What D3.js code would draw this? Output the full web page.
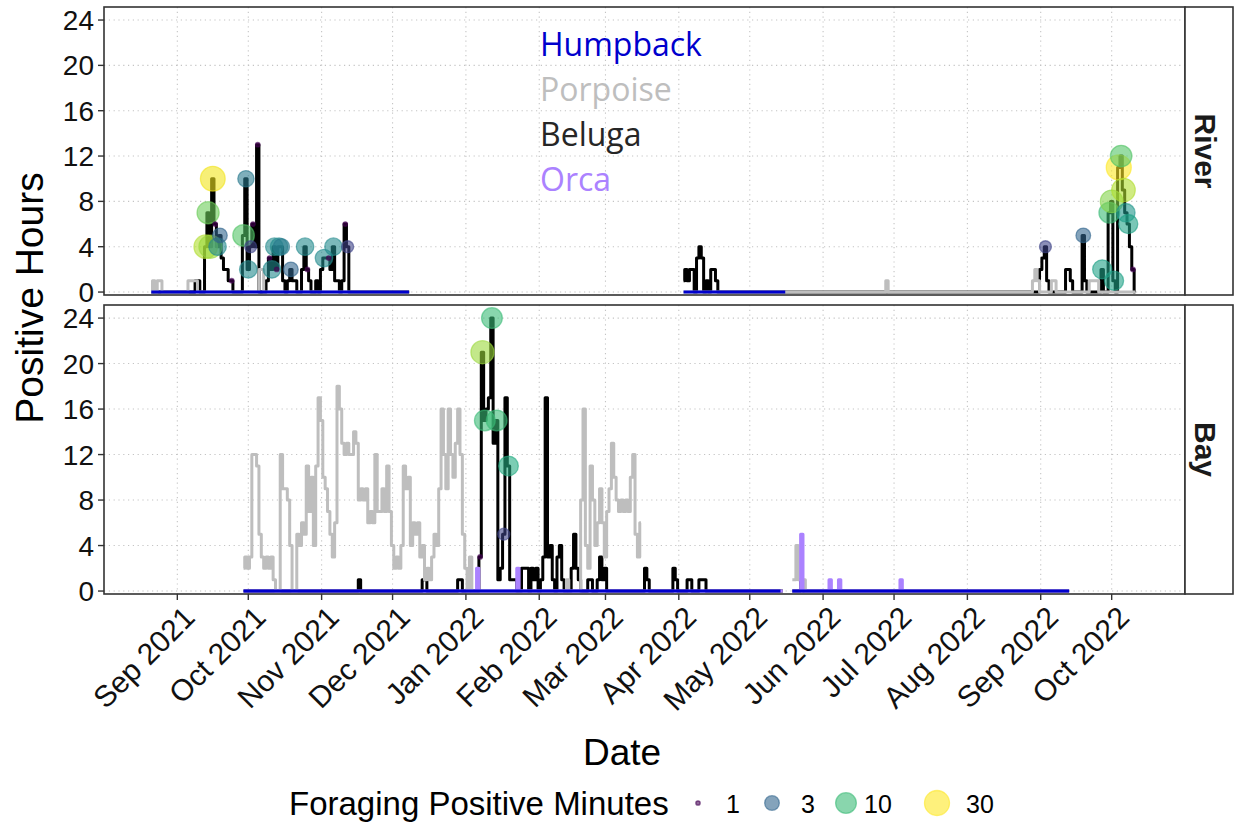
<!DOCTYPE html>
<html>
<head>
<meta charset="utf-8">
<script src="https://cdn.jsdelivr.net/npm/d3@7"></script>
<style>
  body { margin: 0; background: #ffffff; }
  svg { display: block; }
  text { font-family: "Liberation Sans", Arial, sans-serif; }
</style>
</head>
<body>
<svg id="chart" width="1238" height="822"></svg>
<script>
// ---------------- data ----------------
const monthTicks = ["2021-09-01","2021-10-01","2021-11-01","2021-12-01","2022-01-01","2022-02-01",
  "2022-03-01","2022-04-01","2022-05-01","2022-06-01","2022-07-01","2022-08-01","2022-09-01","2022-10-01"];
const yTicks = [0, 4, 8, 12, 16, 20, 24];
const speciesNames = ["Humpback", "Porpoise", "Beluga", "Orca"];
const speciesColors = ["#0000CD", "#BEBEBE", "#000000", "#AB82FF"];
const legendBreaks = [1, 3, 10, 30];

// River hydrophone, first deployment: daily positive hours from 2021-08-21
const riverStart1 = "2021-08-21";
const riverBeluga1 = [
  0,0,0,0,0,0,0,0,0,0, 0,0,0,0,0,0,0,0,0,1, 1,0,0,4,7,4,10,6,4,5,
  3,2,2,1,1,0,0,0,0,5, 10,2,4,6,4,13,0,0,0,1, 3,2,4,2,4,4,1,0,1,2,
  1,1,0,0,2,4,2,1,0,0, 1,0,2,3,3,3,2,4,1,1, 0,1,6,4,0,0,0,0,0,0,
  0,0,0,0,0,0,0,0,0,0, 0,0,0,0,0,0,0,0,0,0
];
const riverPorpoise1 = [
  0,1,0,1,1,0,0,0,0,0, 0,0,0,0,0,0,1,1,1,1, 0,0,0,0,0,0,0,0,0,0,
  0,0,0,0,0,0,0,0,0,0, 0,0,0,0,0,0,2,2,0,0, 0,0,0,0,0,0,0,0,0,0,
  0,0,0,0,0,0,0,0,0,0, 0,0,0,0,0,0,0,0,0,0, 0,0,0,0,0,0,0,0,0,0,
  0,0,0,0,0,0,0,0,0,0, 0,0,0,0,0,0,0,0,0,0
];
// River hydrophone, second deployment: daily positive hours from 2022-04-03
const riverStart2 = "2022-04-03";
const riverBeluga2 = [
  1,2,1,2,2,0,3,4,3,0, 1,0,2,2,1,0,0,0,0,0, 0,0,0,0,0,0,0,0,0,0,
  0,0,0,0,0,0,0,0,0,0, 0,0,0,0,0,0,0,0,0,0, 0,0,0,0,0,0,0,0,0,0,
  0,0,0,0,0,0,0,0,0,0, 0,0,0,0,0,0,0,0,0,0, 0,0,0,0,0,0,0,0,0,0,
  0,0,0,0,0,0,0,0,0,0, 0,0,0,0,0,0,0,0,0,0, 0,0,0,0,0,0,0,0,0,0,
  0,0,0,0,0,0,0,0,0,0, 0,0,0,0,0,0,0,0,0,0, 0,0,0,0,0,0,0,0,0,0,
  0,2,3,4,1,0,0,0,0,0, 0,0,2,2,1,0,0,0,0,5, 1,0,0,0,0,0,0,2,0,0,
  7,8,1,0,11,12,9,7,6,4, 2,0
];
const riverPorpoise2 = [
  0,0,0,0,0,0,0,0,0,0, 0,0,0,0,0,0,0,0,0,0, 0,0,0,0,0,0,0,0,0,0,
  0,0,0,0,0,0,0,0,0,0, 0,0,0,0,0,0,0,0,0,0, 0,0,0,0,0,0,0,0,0,0,
  0,0,0,0,0,0,0,0,0,0, 0,0,0,0,0,0,0,0,0,0, 0,0,0,0,0,0,1,0,0,0,
  0,0,0,0,0,0,0,0,0,0, 0,0,0,0,0,0,0,0,0,0, 0,0,0,0,0,0,0,0,0,0,
  0,0,0,0,0,0,0,0,0,0, 0,0,0,0,0,0,0,0,0,0, 0,0,0,0,0,0,0,0,1,2,
  1,0,0,0,0,0,1,1,0,0, 0,0,0,0,0,0,0,0,0,0, 0,0,1,1,1,1,0,0,0,0,
  0,0,0,0,0,0,0,0,0,0, 0,0
];
// Humpback: no detections at the River site (first and last monitored days)
const riverHumpbackDates = [["2021-08-21","2021-12-08"], ["2022-04-03","2022-05-16"]];
const riverHumpbackHours = [[0, 0], [0, 0]];

// Bay hydrophone, first deployment: daily positive hours from 2021-09-29
const bayStart1 = "2021-09-29";
const bayBeluga1 = [
  0,0,0,0,0,0,0,0,0,0, 0,0,0,0,0,0,0,0,0,0, 0,0,0,0,0,0,0,0,0,0,
  0,0,0,0,0,0,0,0,0,0, 0,0,0,0,0,0,0,0,0,1, 0,0,0,0,0,0,0,0,0,0,
  0,0,0,0,0,0,0,0,0,0, 0,0,0,0,0,0,1,1,0,0, 0,0,0,0,0,0,0,0,0,0,
  0,1,1,0,0,0,0,0,0,0, 3,21,15,16,17,24,13,15,1,2, 5,17,11,1,1,1,0,0,2,2,
  2,0,2,1,2,0,1,3,17,3, 4,1,0,3,4,1,0,0,0,2, 5,2,1,0,0,0,1,1,0,0,
  1,3,1,2,0,0,0,0,0,0, 0,0,0,0,0,0,0,0,0,0, 2,1,0,0,0,0,0,0,0,0,
  0,0,2,1,0,0,0,0,1,1, 0,0,0,1,1,1,0,0,0,0, 0,0,0,0,0,0,0,0,0,0,
  0,0,0,0,0,0,0,0,0,0, 0,0,0,0,0,0,0,0,0
];
const bayPorpoise1 = [
  2,3,2,3,12,12,11,5,3,2, 3,2,3,1,0,0,12,9,9,8, 4,0,0,5,4,6,5,11,7,10,
  4,11,17,15,10,9,7,5,3,6, 18,16,13,12,13,12,12,14,13,8, 9,8,9,6,7,6,12,7,7,9,
  7,11,7,4,2,3,2,4,11,9, 10,4,6,5,6,3,4,1,2,1, 3,5,4,9,16,12,9,16,12,10,
  13,16,12,5,2,0,3,0,0,0, 0,0,0,0,0,0,0,0,0,0, 0,0,0,0,0,0,0,0,0,0,
  0,0,0,0,0,0,0,0,0,0, 0,0,0,0,0,0,0,1,0,0, 0,0,0,8,16,4,2,11,8,4,
  6,9,6,3,7,9,13,10,8,7, 8,7,8,7,10,12,5,3,6
];
const bayOrca1 = [
  0,0,0,0,0,0,0,0,0,0, 0,0,0,0,0,0,0,0,0,0, 0,0,0,0,0,0,0,0,0,0,
  0,0,0,0,0,0,0,0,0,0, 0,0,0,0,0,0,0,0,0,0, 0,0,0,0,0,0,0,0,0,0,
  0,0,0,0,0,0,0,0,0,0, 0,0,0,0,0,0,0,0,0,0, 0,0,0,0,0,0,0,0,0,0,
  0,0,0,0,0,0,0,0,0,2, 0,0,0,0,0,0,0,0,0,0, 0,0,0,0,0,0,2,0,0,0,
  0,0,0,0,0,0,0,0,0,0, 0,0,0,0,0,0,0,0,0,0, 0,0,0,0,0,0,0,0,0,0,
  0,0,0,0,0,0,0,0,0,0, 0,0,0,0,0,0,0,0,0,0, 0,0,0,0,0,0,0,0,0,0,
  0,0,0,0,0,0,0,0,0,0, 0,0,0,0,0,0,0,0,0,0, 0,0,0,0,0,0,0,0,0,0,
  0,0,0,0,0,0,0,0,0,0, 0,0,0,0,0,0,0,0,0
];
// Bay hydrophone, second deployment: daily positive hours from 2022-05-19
const bayStart2 = "2022-05-19";
const bayBeluga2 = [
  0,0,0,0,1,0,0,0,0,0, 0,0,0,0,0,0,0,0,0,0, 0,0,0,0,0,0,0,0,0,0,
  0,0,0,0,0,0,0,0,0,0, 0,0,0,0,0,0,0,0,0,0, 0,0,0,0,0,0,0,0,0,0,
  0,0,0,0,0,0,0,0,0,0, 0,0,0,0,0,0,0,0,0,0, 0,0,0,0,0,0,0,0,0,0,
  0,0,0,0,0,0,0,0,0,0, 0,0,0,0,0,0,0,0,0,0, 0,0,0,0,0,0,0,0
];
const bayPorpoise2 = [
  1,1,4,1,1,1,0,0,0,0, 0,0,0,0,0,0,0,0,0,0, 0,0,0,0,0,0,0,0,0,0,
  0,0,0,0,0,0,0,0,0,0, 0,0,0,0,0,0,0,0,0,0, 0,0,0,0,0,0,0,0,0,0,
  0,0,0,0,0,0,0,0,0,0, 0,0,0,0,0,0,0,0,0,0, 0,0,0,0,0,0,0,0,0,0,
  0,0,0,0,0,0,0,0,0,0, 0,0,0,0,0,0,0,0,0,0, 0,0,0,0,0,0,0,0
];
const bayOrca2 = [
  0,0,0,0,5,0,0,0,0,0, 0,0,0,0,0,0,1,0,0,0, 1,0,0,0,0,0,0,0,0,0,
  0,0,0,0,0,0,0,0,0,0, 0,0,0,0,0,0,1,0,0,0, 0,0,0,0,0,0,0,0,0,0,
  0,0,0,0,0,0,0,0,0,0, 0,0,0,0,0,0,0,0,0,0, 0,0,0,0,0,0,0,0,0,0,
  0,0,0,0,0,0,0,0,0,0, 0,0,0,0,0,0,0,0,0,0, 0,0,0,0,0,0,0,0
];
const bayHumpbackDates = [["2021-09-29","2022-05-14"], ["2022-05-19","2022-09-13"]];
const bayHumpbackHours = [[0, 0], [0, 0]];

// Beluga foraging buzzes: day and minutes with foraging
const forageRiverDates = ["2021-09-13","2021-09-14","2021-09-15","2021-09-16","2021-09-17","2021-09-18",
  "2021-09-19","2021-09-24","2021-09-29","2021-09-30","2021-10-01","2021-10-02","2021-10-03","2021-10-05",
  "2021-10-10","2021-10-11","2021-10-12","2021-10-13","2021-10-14","2021-10-15","2021-10-19","2021-10-25",
  "2021-10-26","2021-11-02","2021-11-04","2021-11-06","2021-11-11","2021-11-12",
  "2022-09-03","2022-09-19","2022-09-27","2022-09-30","2022-10-01","2022-10-02","2022-10-04","2022-10-05",
  "2022-10-06","2022-10-07","2022-10-08","2022-10-10"];
const forageRiverMinutes = [20,14,18,28,1,5,3,1,12,4,5,2,1,1,
  1,5,5,1,5,4,3,5,1,5,1,5,1,2,
  2,3,7,10,16,7,30,12,20,6,7,1];
const forageBayDates = ["2022-01-07","2022-01-08","2022-01-09","2022-01-12","2022-01-14","2022-01-17","2022-01-19"];
const forageBayMinutes = [1, 18, 10, 10, 10, 2, 8];

// ---------------- layout ----------------
const svg = d3.select("#chart");
const parse = d3.utcParse("%Y-%m-%d");
const plotLeft = 104, plotRight = 1185, stripRight = 1233;
const x = d3.scaleUtc().domain([parse("2021-08-01"), parse("2022-11-01")]).range([plotLeft, plotRight]);
const colorOf = Object.fromEntries(speciesNames.map((s, i) => [s, speciesColors[i]]));

function daily(start, values) {
  const s = parse(start);
  return values.map((v, i) => ({ date: d3.utcDay.offset(s, i), v }));
}
function pairs(dates, hours) {
  return dates.map((d, i) => ({ date: parse(d), v: hours[i] }));
}

const panels = [
  { site: "River", top: 7, bottom: 295,
    series: [
      { sp: "Beluga", segs: [daily(riverStart1, riverBeluga1), daily(riverStart2, riverBeluga2)] },
      { sp: "Porpoise", segs: [daily(riverStart1, riverPorpoise1), daily(riverStart2, riverPorpoise2)] },
      { sp: "Humpback", segs: riverHumpbackDates.map((d, i) => pairs(d, riverHumpbackHours[i])) }
    ],
    forage: forageRiverDates.map((d, i) => ({ date: parse(d), min: forageRiverMinutes[i] })) },
  { site: "Bay", top: 305, bottom: 594,
    series: [
      { sp: "Beluga", segs: [daily(bayStart1, bayBeluga1), daily(bayStart2, bayBeluga2)] },
      { sp: "Porpoise", segs: [daily(bayStart1, bayPorpoise1), daily(bayStart2, bayPorpoise2)] },
      { sp: "Orca", segs: [daily(bayStart1, bayOrca1), daily(bayStart2, bayOrca2)] },
      { sp: "Humpback", segs: bayHumpbackDates.map((d, i) => pairs(d, bayHumpbackHours[i])) }
    ],
    forage: forageBayDates.map((d, i) => ({ date: parse(d), min: forageBayMinutes[i] })) }
];

// foraging minutes -> colour (viridis) and point size (area on log scale)
const tScale = d3.scaleLog().domain([1, 30]).range([0, 1]).clamp(true);
const areaScale = d3.scaleLinear().domain([0, 1]).range([2.2 * 2.2, 12.5 * 12.5]);
const radius = m => Math.sqrt(areaScale(tScale(m)));
const fillOf = m => d3.interpolateViridis(tScale(m));

panels.forEach((p, pi) => {
  const y = d3.scaleLinear().domain([-0.26, 25.15]).range([p.bottom, p.top]);
  const g = svg.append("g");

  // grid
  const grid = g.append("g").attr("stroke", "#c4c4c4").attr("stroke-width", 1.1)
    .attr("stroke-dasharray", "1.2,3.6");
  grid.selectAll("line.h").data(yTicks).join("line")
    .attr("x1", plotLeft).attr("x2", plotRight)
    .attr("y1", d => y(d)).attr("y2", d => y(d));
  grid.selectAll("line.v").data(monthTicks).join("line")
    .attr("x1", d => x(parse(d))).attr("x2", d => x(parse(d)))
    .attr("y1", p.top).attr("y2", p.bottom);

  // clip
  const clipId = "clip" + pi;
  svg.append("clipPath").attr("id", clipId).append("rect")
    .attr("x", plotLeft).attr("y", p.top).attr("width", plotRight - plotLeft).attr("height", p.bottom - p.top);
  const body = g.append("g").attr("clip-path", `url(#${clipId})`);

  const line = d3.line().x(d => x(d.date)).y(d => y(d.v)).curve(d3.curveStep);
  p.series.forEach(s => {
    body.selectAll(null).data(s.segs).join("path")
      .attr("d", line).attr("fill", "none")
      .attr("stroke", colorOf[s.sp]).attr("stroke-width", 3)
      .attr("stroke-linejoin", "round");
  });

  // foraging points sit on the beluga line for that day
  const belugaSegs = p.series.find(s => s.sp === "Beluga").segs;
  const lookup = new Map();
  belugaSegs.forEach(seg => seg.forEach(d => lookup.set(+d.date, d.v)));
  body.selectAll("circle").data(p.forage).join("circle")
    .attr("cx", d => x(d.date)).attr("cy", d => y(lookup.get(+d.date)))
    .attr("r", d => radius(d.min))
    .attr("fill", d => fillOf(d.min)).attr("fill-opacity", 0.6)
    .attr("stroke", d => fillOf(d.min)).attr("stroke-opacity", 0.6).attr("stroke-width", 1.3);

  // panel border
  g.append("rect").attr("x", plotLeft).attr("y", p.top)
    .attr("width", plotRight - plotLeft).attr("height", p.bottom - p.top)
    .attr("fill", "none").attr("stroke", "#333333").attr("stroke-width", 1.6);

  // strip
  g.append("rect").attr("x", plotRight).attr("y", p.top)
    .attr("width", stripRight - plotRight).attr("height", p.bottom - p.top)
    .attr("fill", "#ffffff").attr("stroke", "#333333").attr("stroke-width", 1.6);
  g.append("text")
    .attr("transform", `translate(${plotRight + 10},${(p.top + p.bottom) / 2}) rotate(90)`)
    .attr("text-anchor", "middle").attr("font-weight", "bold").attr("font-size", 30)
    .attr("fill", "#1a1a1a").text(p.site);

  // y axis
  const ya = g.append("g");
  ya.selectAll("line").data(yTicks).join("line")
    .attr("x1", plotLeft - 6).attr("x2", plotLeft).attr("y1", d => y(d)).attr("y2", d => y(d))
    .attr("stroke", "#333333").attr("stroke-width", 1.4);
  ya.selectAll("text").data(yTicks).join("text")
    .attr("x", plotLeft - 10).attr("y", d => y(d)).attr("dy", "0.36em")
    .attr("text-anchor", "end").attr("font-size", 28).attr("fill", "#111").text(d => d);

  if (pi === 1) {
    const xa = g.append("g");
    xa.selectAll("line").data(monthTicks).join("line")
      .attr("x1", d => x(parse(d))).attr("x2", d => x(parse(d)))
      .attr("y1", p.bottom).attr("y2", p.bottom + 6)
      .attr("stroke", "#333333").attr("stroke-width", 1.4);
    xa.selectAll("text").data(monthTicks).join("text")
      .attr("transform", d => `translate(${x(parse(d)) + 4},${p.bottom + 10}) rotate(-45)`)
      .attr("text-anchor", "end").attr("dy", "0.72em")
      .attr("font-size", 30).attr("fill", "#111")
      .text(d => d3.utcFormat("%b %Y")(parse(d)));
  }

  // species key inside the River panel
  if (pi === 0) {
    svg.append("g").selectAll("text").data(speciesNames).join("text")
      .attr("x", 540).attr("y", (d, i) => 56 + i * 45)
      .style("font-family", "'Open Sans', sans-serif").attr("font-size", 32)
      .attr("fill", d => colorOf[d] === "#000000" ? "#262626" : colorOf[d])
      .text(d => d);
  }
});

// axis titles
svg.append("text").attr("transform", "translate(43,298) rotate(-90)")
  .attr("text-anchor", "middle").attr("font-size", 39).attr("fill", "#000").text("Positive Hours");
svg.append("text").attr("x", 622).attr("y", 765)
  .attr("text-anchor", "middle").attr("font-size", 37).attr("fill", "#000").text("Date");

// size / colour legend
const lg = svg.append("g");
lg.append("text").attr("x", 289).attr("y", 815).attr("font-size", 33).attr("fill", "#000")
  .text("Foraging Positive Minutes");
const keyX = [698, 772, 846, 937];
const labX = [726, 801, 864, 966];
lg.selectAll("circle").data(legendBreaks).join("circle")
  .attr("cx", (d, i) => keyX[i]).attr("cy", 803).attr("r", d => radius(d))
  .attr("fill", d => fillOf(d)).attr("fill-opacity", 0.6)
  .attr("stroke", d => fillOf(d)).attr("stroke-opacity", 0.6).attr("stroke-width", 1.3);
lg.selectAll("text.lab").data(legendBreaks).join("text").attr("class", "lab")
  .attr("x", (d, i) => labX[i]).attr("y", 813).attr("font-size", 25).attr("fill", "#000")
  .text(d => d);
</script>
</body>
</html>
